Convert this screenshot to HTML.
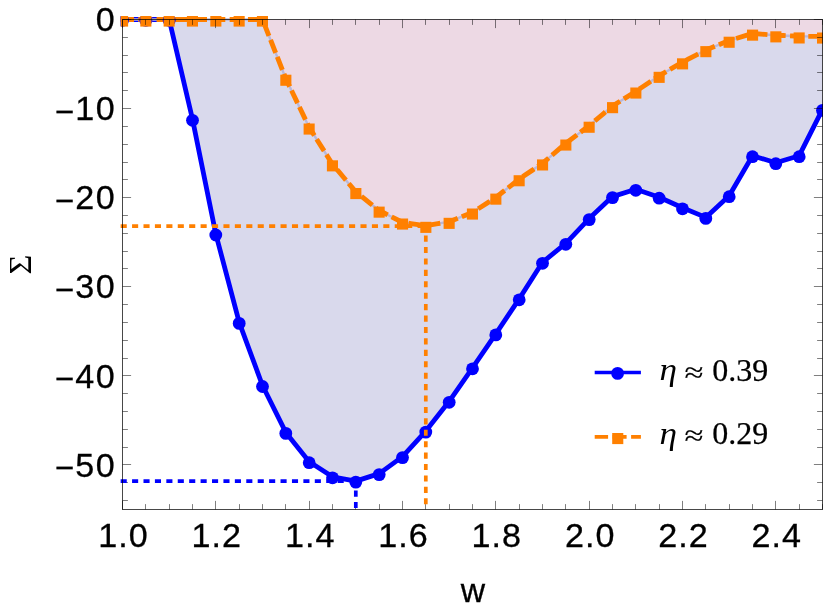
<!DOCTYPE html>
<html><head><meta charset="utf-8"><title>Sigma vs w</title>
<style>html,body{margin:0;padding:0;background:#fff}body{width:823px;height:609px;overflow:hidden;font-family:"Liberation Sans",sans-serif}svg{display:block;will-change:transform}.tk{font-family:"Liberation Sans",sans-serif;font-size:33.2px;fill:#000;stroke:#000;stroke-width:0.3px}.lg{font-family:"Liberation Serif",serif;font-size:32px;fill:#000}</style></head><body>
<svg width="823" height="609" viewBox="0 0 823 609">
<rect width="823" height="609" fill="#fff"/>
<defs><clipPath id="pc"><rect x="120.5" y="16" width="710" height="600"/></clipPath></defs><g clip-path="url(#pc)">
<polygon points="122.5,19.5 145.8,19.5 169.2,19.5 192.5,119.3 215.8,234.0 239.2,322.4 262.5,385.5 285.8,432.4 309.2,461.7 332.5,476.8 355.8,481.1 379.2,473.6 402.5,456.6 425.8,431.1 449.2,401.3 472.5,367.8 495.8,333.9 519.2,298.8 542.5,262.3 565.8,243.3 589.2,218.6 612.5,196.6 635.8,189.3 659.2,197.2 682.5,207.8 705.8,217.4 729.2,195.7 752.5,155.7 775.8,162.7 799.2,155.7 822.5,109.4 822.5,19.5 122.5,19.5" fill="#d9d9ec"/>
<polygon points="122.5,19.5 145.8,19.5 169.2,19.5 192.5,19.5 215.8,19.5 239.2,19.5 262.5,19.5 285.8,78.6 309.2,127.4 332.5,164.2 355.8,191.9 379.2,210.5 402.5,222.4 425.8,225.7 449.2,221.7 472.5,212.4 495.8,197.5 519.2,179.1 542.5,163.3 565.8,143.4 589.2,125.6 612.5,106.0 635.8,91.4 659.2,75.7 682.5,62.2 705.8,50.0 729.2,40.6 752.5,33.5 775.8,35.2 799.2,36.3 822.5,36.4 822.5,19.5 122.5,19.5" fill="#edd9e4"/>
<polyline points="122.5,19.5 145.8,19.5 169.2,19.5 192.5,119.3 215.8,234.0 239.2,322.4 262.5,385.5 285.8,432.4 309.2,461.7 332.5,476.8 355.8,481.1 379.2,473.6 402.5,456.6 425.8,431.1 449.2,401.3 472.5,367.8 495.8,333.9 519.2,298.8 542.5,262.3 565.8,243.3 589.2,218.6 612.5,196.6 635.8,189.3 659.2,197.2 682.5,207.8 705.8,217.4 729.2,195.7 752.5,155.7 775.8,162.7 799.2,155.7 822.5,109.4" fill="none" stroke="#0000ff" stroke-width="4.8" stroke-linejoin="round"/>
<polyline points="122.5,19.5 145.8,19.5 169.2,19.5 192.5,19.5 215.8,19.5 239.2,19.5 262.5,19.5 285.8,78.6 309.2,127.4 332.5,164.2 355.8,191.9 379.2,210.5 402.5,222.4 425.8,225.7 449.2,221.7 472.5,212.4 495.8,197.5 519.2,179.1 542.5,163.3 565.8,143.4 589.2,125.6 612.5,106.0 635.8,91.4 659.2,75.7 682.5,62.2 705.8,50.0 729.2,40.6 752.5,33.5 775.8,35.2 799.2,36.3 822.5,36.4" fill="none" stroke="#b9b8d9" stroke-width="2.4"/>
<polyline points="122.5,19.5 145.8,19.5 169.2,19.5 192.5,19.5 215.8,19.5 239.2,19.5 262.5,19.5 285.8,78.6 309.2,127.4 332.5,164.2 355.8,191.9 379.2,210.5 402.5,222.4 425.8,225.7 449.2,221.7 472.5,212.4 495.8,197.5 519.2,179.1 542.5,163.3 565.8,143.4 589.2,125.6 612.5,106.0 635.8,91.4 659.2,75.7 682.5,62.2 705.8,50.0 729.2,40.6 752.5,33.5 775.8,35.2 799.2,36.3 822.5,36.4" fill="none" stroke="#ff8000" stroke-width="4.9" stroke-dasharray="9.0 9.27" stroke-linecap="square"/>
<g fill="#0000ff">
<circle cx="122.5" cy="20.3" r="6.4"/>
<circle cx="145.8" cy="20.3" r="6.4"/>
<circle cx="169.2" cy="20.3" r="6.4"/>
<circle cx="192.5" cy="120.3" r="6.4"/>
<circle cx="215.8" cy="235.0" r="6.4"/>
<circle cx="239.2" cy="323.4" r="6.4"/>
<circle cx="262.5" cy="386.5" r="6.4"/>
<circle cx="285.8" cy="433.4" r="6.4"/>
<circle cx="309.2" cy="462.7" r="6.4"/>
<circle cx="332.5" cy="477.8" r="6.4"/>
<circle cx="355.8" cy="482.1" r="6.4"/>
<circle cx="379.2" cy="474.6" r="6.4"/>
<circle cx="402.5" cy="457.6" r="6.4"/>
<circle cx="425.8" cy="432.1" r="6.4"/>
<circle cx="449.2" cy="402.3" r="6.4"/>
<circle cx="472.5" cy="368.8" r="6.4"/>
<circle cx="495.8" cy="334.9" r="6.4"/>
<circle cx="519.2" cy="299.8" r="6.4"/>
<circle cx="542.5" cy="263.3" r="6.4"/>
<circle cx="565.8" cy="244.3" r="6.4"/>
<circle cx="589.2" cy="219.6" r="6.4"/>
<circle cx="612.5" cy="197.6" r="6.4"/>
<circle cx="635.8" cy="190.3" r="6.4"/>
<circle cx="659.2" cy="198.2" r="6.4"/>
<circle cx="682.5" cy="208.8" r="6.4"/>
<circle cx="705.8" cy="218.4" r="6.4"/>
<circle cx="729.2" cy="196.7" r="6.4"/>
<circle cx="752.5" cy="156.7" r="6.4"/>
<circle cx="775.8" cy="163.7" r="6.4"/>
<circle cx="799.2" cy="156.7" r="6.4"/>
<circle cx="822.5" cy="110.4" r="6.4"/>
</g>
<g fill="#ff8000">
<rect x="120.5" y="15.5" width="7.6" height="11.1"/>
<rect x="140.3" y="15.5" width="11.1" height="11.1"/>
<rect x="163.6" y="15.5" width="11.1" height="11.1"/>
<rect x="186.9" y="15.5" width="11.1" height="11.1"/>
<rect x="210.3" y="15.5" width="11.1" height="11.1"/>
<rect x="233.6" y="15.5" width="11.1" height="11.1"/>
<rect x="256.9" y="15.5" width="11.1" height="11.1"/>
<rect x="280.3" y="74.7" width="11.1" height="11.1"/>
<rect x="303.6" y="123.5" width="11.1" height="11.1"/>
<rect x="326.9" y="160.3" width="11.1" height="11.1"/>
<rect x="350.3" y="188.0" width="11.1" height="11.1"/>
<rect x="373.6" y="206.6" width="11.1" height="11.1"/>
<rect x="397.0" y="218.5" width="11.1" height="11.1"/>
<rect x="420.3" y="221.8" width="11.1" height="11.1"/>
<rect x="443.6" y="217.8" width="11.1" height="11.1"/>
<rect x="466.9" y="208.5" width="11.1" height="11.1"/>
<rect x="490.3" y="193.6" width="11.1" height="11.1"/>
<rect x="513.6" y="175.2" width="11.1" height="11.1"/>
<rect x="537.0" y="159.4" width="11.1" height="11.1"/>
<rect x="560.3" y="139.5" width="11.1" height="11.1"/>
<rect x="583.6" y="121.7" width="11.1" height="11.1"/>
<rect x="607.0" y="102.1" width="11.1" height="11.1"/>
<rect x="630.3" y="87.5" width="11.1" height="11.1"/>
<rect x="653.6" y="71.8" width="11.1" height="11.1"/>
<rect x="677.0" y="58.3" width="11.1" height="11.1"/>
<rect x="700.3" y="46.1" width="11.1" height="11.1"/>
<rect x="723.6" y="36.7" width="11.1" height="11.1"/>
<rect x="747.0" y="29.6" width="11.1" height="11.1"/>
<rect x="770.3" y="31.3" width="11.1" height="11.1"/>
<rect x="793.6" y="32.4" width="11.1" height="11.1"/>
<rect x="817.0" y="32.5" width="11.1" height="11.1"/>
</g>
</g>
<path d="M122.50,509.5v-8.6M122.50,19.5v8.6M145.50,509.5v-5.4M145.50,19.5v5.4M169.50,509.5v-5.4M169.50,19.5v5.4M192.50,509.5v-5.4M192.50,19.5v5.4M215.50,509.5v-8.6M215.50,19.5v8.6M239.50,509.5v-5.4M239.50,19.5v5.4M262.50,509.5v-5.4M262.50,19.5v5.4M285.50,509.5v-5.4M285.50,19.5v5.4M309.50,509.5v-8.6M309.50,19.5v8.6M332.50,509.5v-5.4M332.50,19.5v5.4M355.50,509.5v-5.4M355.50,19.5v5.4M379.50,509.5v-5.4M379.50,19.5v5.4M402.50,509.5v-8.6M402.50,19.5v8.6M425.50,509.5v-5.4M425.50,19.5v5.4M449.50,509.5v-5.4M449.50,19.5v5.4M472.50,509.5v-5.4M472.50,19.5v5.4M495.50,509.5v-8.6M495.50,19.5v8.6M519.50,509.5v-5.4M519.50,19.5v5.4M542.50,509.5v-5.4M542.50,19.5v5.4M565.50,509.5v-5.4M565.50,19.5v5.4M589.50,509.5v-8.6M589.50,19.5v8.6M612.50,509.5v-5.4M612.50,19.5v5.4M635.50,509.5v-5.4M635.50,19.5v5.4M659.50,509.5v-5.4M659.50,19.5v5.4M682.50,509.5v-8.6M682.50,19.5v8.6M705.50,509.5v-5.4M705.50,19.5v5.4M729.50,509.5v-5.4M729.50,19.5v5.4M752.50,509.5v-5.4M752.50,19.5v5.4M775.50,509.5v-8.6M775.50,19.5v8.6M799.50,509.5v-5.4M799.50,19.5v5.4M822.50,509.5v-5.4M822.50,19.5v5.4M122.5,19.50h8.6M822.5,19.50h-8.6M122.5,37.50h5.4M822.5,37.50h-5.4M122.5,55.50h5.4M822.5,55.50h-5.4M122.5,72.50h5.4M822.5,72.50h-5.4M122.5,90.50h5.4M822.5,90.50h-5.4M122.5,108.50h8.6M822.5,108.50h-8.6M122.5,126.50h5.4M822.5,126.50h-5.4M122.5,144.50h5.4M822.5,144.50h-5.4M122.5,162.50h5.4M822.5,162.50h-5.4M122.5,179.50h5.4M822.5,179.50h-5.4M122.5,197.50h8.6M822.5,197.50h-8.6M122.5,215.50h5.4M822.5,215.50h-5.4M122.5,233.50h5.4M822.5,233.50h-5.4M122.5,251.50h5.4M822.5,251.50h-5.4M122.5,268.50h5.4M822.5,268.50h-5.4M122.5,286.50h8.6M822.5,286.50h-8.6M122.5,304.50h5.4M822.5,304.50h-5.4M122.5,322.50h5.4M822.5,322.50h-5.4M122.5,340.50h5.4M822.5,340.50h-5.4M122.5,358.50h5.4M822.5,358.50h-5.4M122.5,375.50h8.6M822.5,375.50h-8.6M122.5,393.50h5.4M822.5,393.50h-5.4M122.5,411.50h5.4M822.5,411.50h-5.4M122.5,429.50h5.4M822.5,429.50h-5.4M122.5,447.50h5.4M822.5,447.50h-5.4M122.5,464.50h8.6M822.5,464.50h-8.6M122.5,482.50h5.4M822.5,482.50h-5.4M122.5,500.50h5.4M822.5,500.50h-5.4" stroke="#000" stroke-opacity="0.5" stroke-width="1" fill="none"/>
<line x1="122.5" y1="226.1" x2="425.8" y2="226.1" stroke="#ff8000" stroke-width="3.7" stroke-dasharray="2.4 9.02" stroke-linecap="square"/>
<line x1="425.8" y1="502.5" x2="425.8" y2="228" stroke="#ff8000" stroke-width="3.7" stroke-dasharray="2.4 9.02" stroke-linecap="square"/>
<line x1="122.5" y1="481.1" x2="347.8" y2="481.1" stroke="#0000ff" stroke-width="3.7" stroke-dasharray="2.4 9.02" stroke-linecap="square"/>
<line x1="355.8" y1="506.25" x2="355.8" y2="484" stroke="#0000ff" stroke-width="3.7" stroke-dasharray="2.4 9.02" stroke-linecap="square"/>
<rect x="122.5" y="19.5" width="700.0" height="490.0" fill="none" stroke="#000" stroke-opacity="0.72" stroke-width="1"/>
<text class="tk" transform="translate(0,31.1) scale(1.027,1)" x="93.22" y="0">0</text>
<text class="tk" transform="translate(0,120.2) scale(1.027,1)" x="73.40 93.22" y="0">10</text><text class="tk" x="54.8" y="122.8">−</text>
<text class="tk" transform="translate(0,209.3) scale(1.027,1)" x="73.40 93.22" y="0">20</text><text class="tk" x="54.8" y="211.9">−</text>
<text class="tk" transform="translate(0,298.4) scale(1.027,1)" x="73.40 93.22" y="0">30</text><text class="tk" x="54.8" y="301.0">−</text>
<text class="tk" transform="translate(0,387.5) scale(1.027,1)" x="73.40 93.22" y="0">40</text><text class="tk" x="54.8" y="390.1">−</text>
<text class="tk" transform="translate(0,476.6) scale(1.027,1)" x="73.40 93.22" y="0">50</text><text class="tk" x="54.8" y="479.20000000000005">−</text>
<text class="tk" transform="translate(0,547.2) scale(1.027,1)" x="95.67 115.15 125.40" y="0">1.0</text>
<text class="tk" transform="translate(0,547.2) scale(1.027,1)" x="186.55 206.03 216.28" y="0">1.2</text>
<text class="tk" transform="translate(0,547.2) scale(1.027,1)" x="277.43 296.91 307.16" y="0">1.4</text>
<text class="tk" transform="translate(0,547.2) scale(1.027,1)" x="368.31 387.79 398.04" y="0">1.6</text>
<text class="tk" transform="translate(0,547.2) scale(1.027,1)" x="459.19 478.67 488.92" y="0">1.8</text>
<text class="tk" transform="translate(0,547.2) scale(1.027,1)" x="550.07 569.55 579.80" y="0">2.0</text>
<text class="tk" transform="translate(0,547.2) scale(1.027,1)" x="640.95 660.43 670.68" y="0">2.2</text>
<text class="tk" transform="translate(0,547.2) scale(1.027,1)" x="731.83 751.31 761.56" y="0">2.4</text>
<text class="tk" style="font-size:33.7px" x="472.8" y="602" text-anchor="middle">w</text>
<text class="lg" transform="translate(31,264.6) rotate(-90) scale(1.07,1)" text-anchor="middle" x="0" y="0">Σ</text>
<line x1="594.7" y1="372.5" x2="640.9" y2="372.5" stroke="#0000ff" stroke-width="3.5"/>
<circle cx="617.6" cy="373.4" r="6.4" fill="#0000ff"/>
<line x1="594.7" y1="436.9" x2="640.9" y2="436.9" stroke="#ff8000" stroke-width="3.6" stroke-dasharray="13.4 4.5 14 4.5 9.8 0"/>
<rect x="612.2" y="433" width="11.1" height="11.1" fill="#ff8000"/>
<text class="lg" transform="translate(659.4,379.8) scale(1.1,1)" x="0" y="0" font-style="italic">η</text>
<text class="lg" transform="translate(684.4,381.7) scale(1.08,0.9)" x="0" y="0" style="stroke:#000;stroke-width:0.15px">≈</text>
<text class="lg" x="712.3" y="380.7" style="stroke:#000;stroke-width:0.25px">0.39</text>
<text class="lg" transform="translate(659.4,443.5) scale(1.1,1)" x="0" y="0" font-style="italic">η</text>
<text class="lg" transform="translate(684.4,445.4) scale(1.08,0.9)" x="0" y="0" style="stroke:#000;stroke-width:0.15px">≈</text>
<text class="lg" x="712.3" y="444.4" style="stroke:#000;stroke-width:0.25px">0.29</text>
</svg></body></html>
